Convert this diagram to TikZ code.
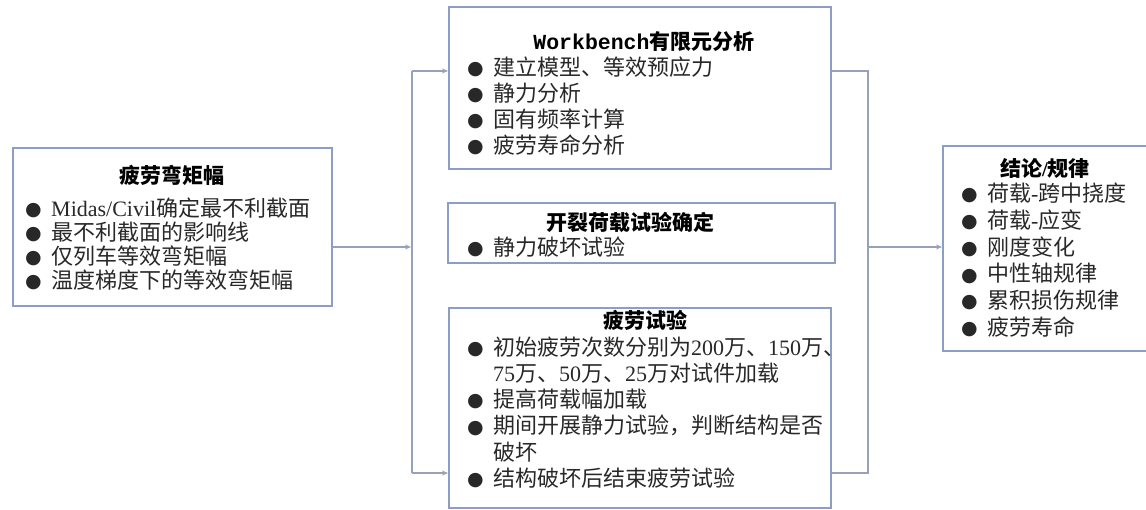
\documentclass[tikz,border=0pt]{standalone}
\usepackage{fontspec}
\setmainfont{Noto Sans CJK SC}
\newfontfamily\tnr{Liberation Serif}
\newfontfamily\mono{Liberation Mono}
\newfontfamily\djv{DejaVu Sans}
\usetikzlibrary{arrows.meta}
\definecolor{boxc}{RGB}{140,158,196}
\definecolor{linec}{RGB}{150,162,184}
\definecolor{txtc}{RGB}{40,40,40}
\newcommand{\bu}{\makebox[26pt][l]{\raisebox{0.8pt}{\djv\fontsize{19}{19}\selectfont ●}}}
\newcommand{\ind}{\hspace*{26pt}}
\newcommand{\la}[1]{{\tnr #1}}
\begin{document}
\begin{tikzpicture}[x=1pt,y=-1pt,
  box/.style={draw=boxc,line width=1.6pt,inner sep=0pt,anchor=north west},
  ttl/.style={font=\bfseries\fontsize{21}{26}\selectfont,text=black,inner sep=0pt},
  body/.style={align=left,anchor=west,inner sep=0pt,text=txtc},
  conn/.style={draw=linec,line width=1.4pt},
  arr/.style={conn,-{Stealth[length=6pt,width=5pt]}}]
\useasboundingbox (0,0) rectangle (1146,510);
% boxes
\node[box,minimum width=319pt,minimum height=158pt] (L) at (12,147) {};
\node[box,minimum width=382pt,minimum height=162pt] (W) at (448,6) {};
\node[box,minimum width=387pt,minimum height=60pt] (K) at (447,202) {};
\node[box,minimum width=382pt,minimum height=200pt] (F) at (448,307) {};
\node[box,minimum width=205pt,minimum height=205pt] (R) at (942,145) {};
% titles
\node[ttl] (Lh) at (172,175) {疲劳弯矩幅};
\node[ttl] (Wh) at (644,42) {{\mono\bfseries\fontsize{21.5}{26}\selectfont Workbench}有限元分析};
\node[ttl] (Kh) at (630,222) {开裂荷载试验确定};
\node[ttl] (Fh) at (645,320) {疲劳试验};
\node[ttl] (Rh) at (1045,168) {结论{\tnr\bfseries /}规律};
% bodies
\node[body,font=\fontsize{22}{24}\selectfont] (Lt) at (25,244)
  {\bu\la{Midas/Civil}确定最不利截面\\
   \bu 最不利截面的影响线\\
   \bu 仅列车等效弯矩幅\\
   \bu 温度梯度下的等效弯矩幅};
\node[body,font=\fontsize{22}{26}\selectfont] (Wt) at (467,106)
  {\bu 建立模型、等效预应力\\
   \bu 静力分析\\
   \bu 固有频率计算\\
   \bu 疲劳寿命分析};
\node[body,font=\fontsize{22}{26}\selectfont] (Kt) at (467,247)
  {\bu 静力破坏试验};
\node[body,font=\fontsize{22}{26.2}\selectfont] (Ft) at (467,412.5)
  {\bu 初始疲劳次数分别为\la{200}万、\la{150}万、\\
   \ind\la{75}万、\la{50}万、\la{25}万对试件加载\\
   \bu 提高荷载幅加载\\
   \bu 期间开展静力试验，判断结构是否\\
   \ind 破坏\\
   \bu 结构破坏后结束疲劳试验};
\node[body,font=\fontsize{22}{26.8}\selectfont] (Rt) at (961,260)
  {\bu 荷载\la{-}跨中挠度\\
   \bu 荷载\la{-}应变\\
   \bu 刚度变化\\
   \bu 中性轴规律\\
   \bu 累积损伤规律\\
   \bu 疲劳寿命};
% connectors
\coordinate (la) at (411,247);
\coordinate (lt) at (412,71);
\coordinate (lb) at (412,473);
\coordinate (rt) at (868,71);
\coordinate (rb) at (868,473);
\coordinate (rm) at (868,247);
\draw[arr] (L.east |- la) -- (la);
\draw[conn] (lt) -- (lb);
\draw[arr] (lt) -- (lt -| W.west);
\draw[arr] (lb) -- (lb -| F.west);
\draw[conn] (W.east |- rt) -- (rt) -- (rb) -- (F.east |- rb);
\draw[arr] (rm) -- (rm -| R.west);
\end{tikzpicture}
\end{document}
